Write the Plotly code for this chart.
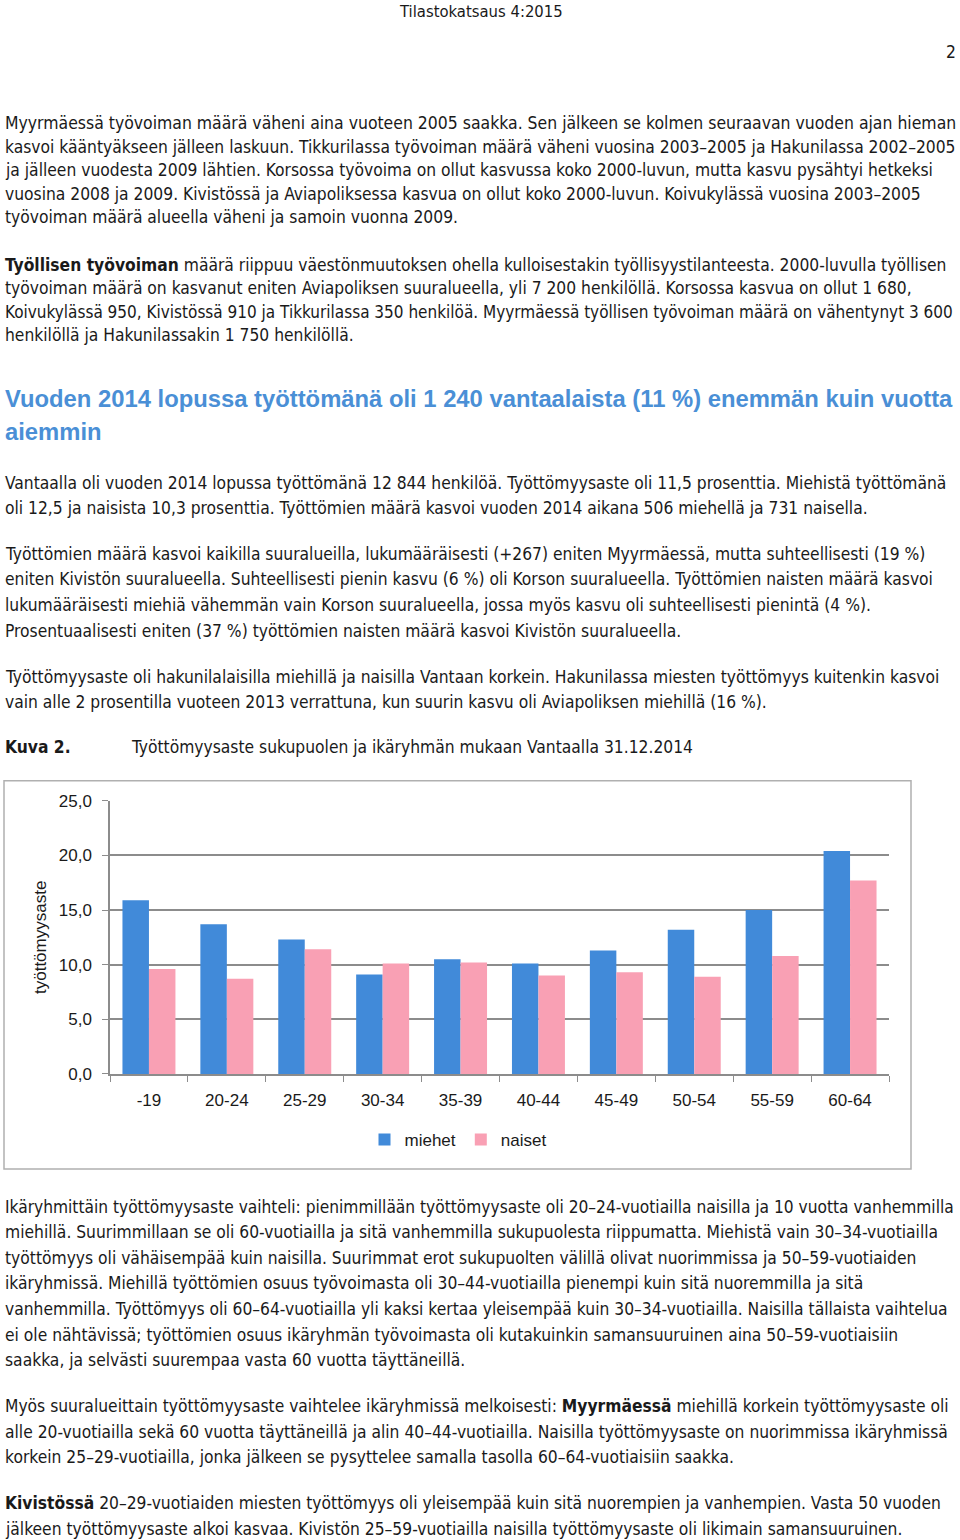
import plotly.graph_objects as go

W, H = 960, 1540

# Data for the chart
ika = ["-19", "20-24", "25-29", "30-34", "35-39", "40-44", "45-49", "50-54", "55-59", "60-64"]
miehet = [15.9, 13.7, 12.3, 9.1, 10.5, 10.1, 11.3, 13.2, 15.0, 20.4]
naiset = [9.6, 8.7, 11.4, 10.1, 10.2, 9.0, 9.3, 8.9, 10.8, 17.7]
y_ticks = [0, 5, 10, 15, 20, 25]

# Page text
header = "Tilastokatsaus 4:2015"
page_no = "2"
para1 = [
    "Myyrmäessä työvoiman määrä väheni aina vuoteen 2005 saakka. Sen jälkeen se kolmen seuraavan vuoden ajan hieman",
    "kasvoi kääntyäkseen jälleen laskuun. Tikkurilassa työvoiman määrä väheni vuosina 2003–2005 ja Hakunilassa 2002–2005",
    "ja jälleen vuodesta 2009 lähtien. Korsossa työvoima on ollut kasvussa koko 2000-luvun, mutta kasvu pysähtyi hetkeksi",
    "vuosina 2008 ja 2009. Kivistössä ja Aviapoliksessa kasvua on ollut koko 2000-luvun. Koivukylässä vuosina 2003–2005",
    "työvoiman määrä alueella väheni ja samoin vuonna 2009.",
]
para2 = [
    "<b>Työllisen työvoiman</b> määrä riippuu väestönmuutoksen ohella kulloisestakin työllisyystilanteesta. 2000-luvulla työllisen",
    "työvoiman määrä on kasvanut eniten Aviapoliksen suuralueella, yli 7 200 henkilöllä. Korsossa kasvua on ollut 1 680,",
    "Koivukylässä 950, Kivistössä 910 ja Tikkurilassa 350 henkilöä. Myyrmäessä työllisen työvoiman määrä on vähentynyt 3 600",
    "henkilöllä ja Hakunilassakin 1 750 henkilöllä.",
]
heading = [
    "Vuoden 2014 lopussa työttömänä oli 1 240 vantaalaista (11 %) enemmän kuin vuotta",
    "aiemmin",
]
para3 = [
    "Vantaalla oli vuoden 2014 lopussa työttömänä 12 844 henkilöä. Työttömyysaste oli 11,5 prosenttia. Miehistä työttömänä",
    "oli 12,5 ja naisista 10,3 prosenttia. Työttömien määrä kasvoi vuoden 2014 aikana 506 miehellä ja 731 naisella.",
]
para4 = [
    "Työttömien määrä kasvoi kaikilla suuralueilla, lukumääräisesti (+267) eniten Myyrmäessä, mutta suhteellisesti (19 %)",
    "eniten Kivistön suuralueella. Suhteellisesti pienin kasvu (6 %) oli Korson suuralueella. Työttömien naisten määrä kasvoi",
    "lukumääräisesti miehiä vähemmän vain Korson suuralueella, jossa myös kasvu oli suhteellisesti pienintä (4 %).",
    "Prosentuaalisesti eniten (37 %) työttömien naisten määrä kasvoi Kivistön suuralueella.",
]
para5 = [
    "Työttömyysaste oli hakunilalaisilla miehillä ja naisilla Vantaan korkein. Hakunilassa miesten työttömyys kuitenkin kasvoi",
    "vain alle 2 prosentilla vuoteen 2013 verrattuna, kun suurin kasvu oli Aviapoliksen miehillä (16 %).",
]
caption_label = "<b>Kuva 2.</b>"
caption = "Työttömyysaste sukupuolen ja ikäryhmän mukaan Vantaalla 31.12.2014"
para6 = [
    "Ikäryhmittäin työttömyysaste vaihteli: pienimmillään työttömyysaste oli 20–24-vuotiailla naisilla ja 10 vuotta vanhemmilla",
    "miehillä. Suurimmillaan se oli 60-vuotiailla ja sitä vanhemmilla sukupuolesta riippumatta. Miehistä vain 30–34-vuotiailla",
    "työttömyys oli vähäisempää kuin naisilla. Suurimmat erot sukupuolten välillä olivat nuorimmissa ja 50–59-vuotiaiden",
    "ikäryhmissä. Miehillä työttömien osuus työvoimasta oli 30–44-vuotiailla pienempi kuin sitä nuoremmilla ja sitä",
    "vanhemmilla. Työttömyys oli 60–64-vuotiailla yli kaksi kertaa yleisempää kuin 30–34-vuotiailla. Naisilla tällaista vaihtelua",
    "ei ole nähtävissä; työttömien osuus ikäryhmän työvoimasta oli kutakuinkin samansuuruinen aina 50–59-vuotiaisiin",
    "saakka, ja selvästi suurempaa vasta 60 vuotta täyttäneillä.",
]
para7 = [
    "Myös suuralueittain työttömyysaste vaihtelee ikäryhmissä melkoisesti: <b>Myyrmäessä</b> miehillä korkein työttömyysaste oli",
    "alle 20-vuotiailla sekä 60 vuotta täyttäneillä ja alin 40–44-vuotiailla. Naisilla työttömyysaste on nuorimmissa ikäryhmissä",
    "korkein 25–29-vuotiailla, jonka jälkeen se pysyttelee samalla tasolla 60–64-vuotiaisiin saakka.",
]
para8 = [
    "<b>Kivistössä</b> 20–29-vuotiaiden miesten työttömyys oli yleisempää kuin sitä nuorempien ja vanhempien. Vasta 50 vuoden",
    "jälkeen työttömyysaste alkoi kasvaa. Kivistön 25–59-vuotiailla naisilla työttömyysaste oli likimain samansuuruinen.",
]

BODY_FONT = "Liberation Sans Narrow, DejaVu Sans Condensed, Arial Narrow, sans-serif"
CHART_FONT = "Liberation Sans, Arial, sans-serif"
BODY_SIZE = 17.3

# the photographed page comes out slightly squeezed vertically:
# shot_y ~= 0.9872 * y + 8.6, so page positions are mapped back before use
SY, OY = 0.9872, 8.6


def fy(y):
    return (y - OY) / SY


def px(x, y):
    return x / W, 1 - fy(y) / H


def text(fig, s, x, y, size=BODY_SIZE, anchor="left", color="#1a1a1a", family=BODY_FONT):
    xx, yy = px(x, y)
    fig.add_annotation(x=xx, y=yy, xref="paper", yref="paper", text=s, showarrow=False,
                       xanchor=anchor, yanchor="middle", align=anchor,
                       font=dict(family=family, size=size, color=color))


def paragraph(fig, lines, y0, step, sizes=None, **kw):
    for i, line in enumerate(lines):
        if sizes and i in sizes:
            kw["size"] = sizes[i]
        elif sizes:
            kw.pop("size", None)
        text(fig, line, 3, y0 + i * step, **kw)


fig = go.Figure()
fig.add_trace(go.Bar(x=ika, y=miehet, name="miehet", marker=dict(color="#418ad9", line=dict(width=0))))
fig.add_trace(go.Bar(x=ika, y=naiset, name="naiset", marker=dict(color="#f9a0b4", line=dict(width=0))))

plot_left, plot_right = 110, 889
plot_top, plot_bottom = 800, 1073

fig.update_layout(
    width=W, height=H,
    margin=dict(l=0, r=0, t=0, b=0),
    paper_bgcolor="white", plot_bgcolor="white",
    separators=", ",
    barmode="group", bargap=0.32, bargroupgap=0,
    font=dict(family=CHART_FONT, size=17, color="#1a1a1a"),
    showlegend=True,
    legend=dict(orientation="h", x=458 / W, y=px(0, 1139)[1], xanchor="center", yanchor="middle",
                font=dict(family=CHART_FONT, size=17), itemwidth=30, traceorder="normal"),
    xaxis=dict(domain=[plot_left / W, plot_right / W], showline=True, linecolor="#8c8c8c", linewidth=1.5,
               ticks="outside", tickson="boundaries", ticklen=6, tickcolor="#8c8c8c",
               ticklabelstandoff=10, showgrid=False, fixedrange=True),
    yaxis=dict(domain=[px(0, plot_bottom)[1], px(0, plot_top)[1]], range=[0, 25], tickvals=y_ticks,
               tickformat=".1f", showline=True, linecolor="#8c8c8c", linewidth=1.5,
               ticks="outside", ticklen=6, tickcolor="#8c8c8c", ticklabelstandoff=7,
               showgrid=True, gridcolor="#8c8c8c", gridwidth=1.5, zeroline=False,
               title=dict(text="työttömyysaste", standoff=8, font=dict(size=17))),
)

# chart frame
x0, y0 = px(4, 780)
x1, y1 = px(911, 1168)
fig.add_shape(type="rect", xref="paper", yref="paper", x0=x0, y0=y1, x1=x1, y1=y0,
              line=dict(color="#b0b0b0", width=1.5), fillcolor="rgba(0,0,0,0)", layer="below")

# page text
text(fig, header, 481, 11, size=16.5, anchor="center")
text(fig, page_no, 958, 52, anchor="right")
paragraph(fig, para1, 123, 23.4, sizes={0: 17.45})
paragraph(fig, para2, 264, 23.6, sizes={2: 17.0})
paragraph(fig, ["<b>" + s + "</b>" for s in heading], 398, 33, size=23.8, color="#4a8fd6",
          family="Liberation Sans, Arial, sans-serif")
paragraph(fig, para3, 482, 25.5)
paragraph(fig, para4, 553, 25.7)
paragraph(fig, para5, 676, 25.5)
text(fig, caption_label, 3, 746)
text(fig, caption, 129, 746)
paragraph(fig, para6, 1206, 25.5, sizes={0: 17.2})
paragraph(fig, para7, 1405, 25.5)
paragraph(fig, para8, 1502, 25.5)

# pin the figure to the window's top-left corner, outside the page flow
pin = ("document.body.style.margin='0';"
       "var d=document.getElementById('{plot_id}');"
       "d.style.position='fixed';d.style.top='0px';d.style.left='0px';")
fig.write_html("out.html", config={"displayModeBar": False}, post_script=pin)
